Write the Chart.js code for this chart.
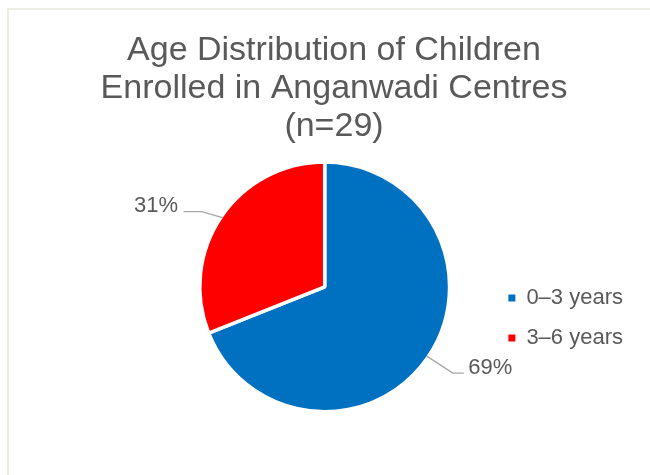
<!DOCTYPE html>
<html>
<head>
<meta charset="utf-8">
<script src="https://cdn.jsdelivr.net/npm/chart.js@4.4.1/dist/chart.umd.min.js"></script>
<style>
  html, body { margin: 0; padding: 0; background: #fff; }
  #wrap { position: relative; width: 650px; height: 475px; overflow: hidden; }
  #frame { position: absolute; left: 7px; top: 8px; width: 700px; height: 500px;
           border-left: 2px solid #EEEDE4; border-top: 2px solid #EEEDE4; }
  #myChart { position: absolute; left: 0; top: 0; }
</style>
</head>
<body>
<div id="wrap">
  <div id="frame"></div>
  <canvas id="myChart" width="650" height="475"></canvas>
</div>
<script>
const titleLines = ['Age Distribution of Children', 'Enrolled in Anganwadi Centres', '(n=29)'];
const ageGroups = ['0–3 years', '3–6 years'];
const childCounts = [20, 9];
const sliceColors = ['#0070C0', '#FF0000'];

const textColor = '#595959';
const fontFamily = '"Liberation Sans", Arial, sans-serif';

// leader line shape for each slice: bend offset from the pie edge, then a short flat run
const leaders = [
  { dx: 26, dy: 17, run: 11 },
  { dx: -21, dy: -6, run: -18 }
];

const percentLabels = {
  id: 'percentLabels',
  afterDatasetsDraw(chart) {
    const ctx = chart.ctx;
    const meta = chart.getDatasetMeta(0);
    const total = childCounts.reduce((a, b) => a + b, 0);
    ctx.save();
    ctx.font = '22px ' + fontFamily;
    meta.data.forEach((arc, i) => {
      const p = arc.getProps(['x', 'y', 'startAngle', 'endAngle', 'outerRadius']);
      const mid = (p.startAngle + p.endAngle) / 2;
      const r = p.outerRadius - 1.5;
      const ex = p.x + Math.cos(mid) * r;
      const ey = p.y + Math.sin(mid) * r;
      const l = leaders[i];
      const bx = ex + l.dx, by = ey + l.dy;
      const tx = bx + l.run;
      ctx.strokeStyle = '#A6A6A6';
      ctx.lineWidth = 1.3;
      ctx.beginPath();
      ctx.moveTo(ex, ey);
      ctx.lineTo(bx, by);
      ctx.lineTo(tx, by);
      ctx.stroke();
      const pct = Math.round(childCounts[i] / total * 100) + '%';
      ctx.fillStyle = textColor;
      ctx.textBaseline = 'alphabetic';
      if (l.run > 0) {
        ctx.textAlign = 'left';
        ctx.fillText(pct, tx + 4.5, by + 0.5);
      } else {
        ctx.textAlign = 'right';
        ctx.fillText(pct, tx - 5.5, by + 0.5);
      }
    });
    ctx.restore();
  }
};

// title sits a little right of the pie, legend a little lower than centre
const nudgeBoxes = {
  id: 'nudgeBoxes',
  afterLayout(chart) {
    if (chart.titleBlock) {
      chart.titleBlock.left = 18;
      chart.titleBlock.right = 650;
    }
    if (chart.legend) {
      chart.legend.top += 31;
      chart.legend.bottom += 31;
    }
  }
};

const ctx = document.getElementById('myChart');

new Chart(ctx, {
  type: 'pie',
  data: {
    labels: ageGroups,
    datasets: [{
      data: childCounts,
      backgroundColor: sliceColors,
      borderColor: '#FFFFFF',
      borderWidth: 3.5
    }]
  },
  options: {
    responsive: false,
    animation: false,
    layout: { padding: { top: 0, bottom: 61.5, left: 159, right: 17 } },
    plugins: {
      title: {
        display: true,
        text: titleLines,
        color: textColor,
        font: { family: fontFamily, size: 34, weight: 'normal', lineHeight: 1.13 },
        padding: { top: 31, bottom: 14 }
      },
      legend: {
        position: 'right',
        fullSize: false,
        labels: {
          color: textColor,
          font: { family: fontFamily, size: 22 },
          boxWidth: 7,
          boxHeight: 7,
          padding: 18,
          generateLabels(chart) {
            const items = Chart.overrides.pie.plugins.legend.labels.generateLabels(chart);
            return items.map(it => Object.assign(it, { lineWidth: 0, strokeStyle: 'rgba(0,0,0,0)' }));
          }
        }
      },
      tooltip: { enabled: false }
    }
  },
  plugins: [percentLabels, nudgeBoxes]
});
</script>
</body>
</html>
